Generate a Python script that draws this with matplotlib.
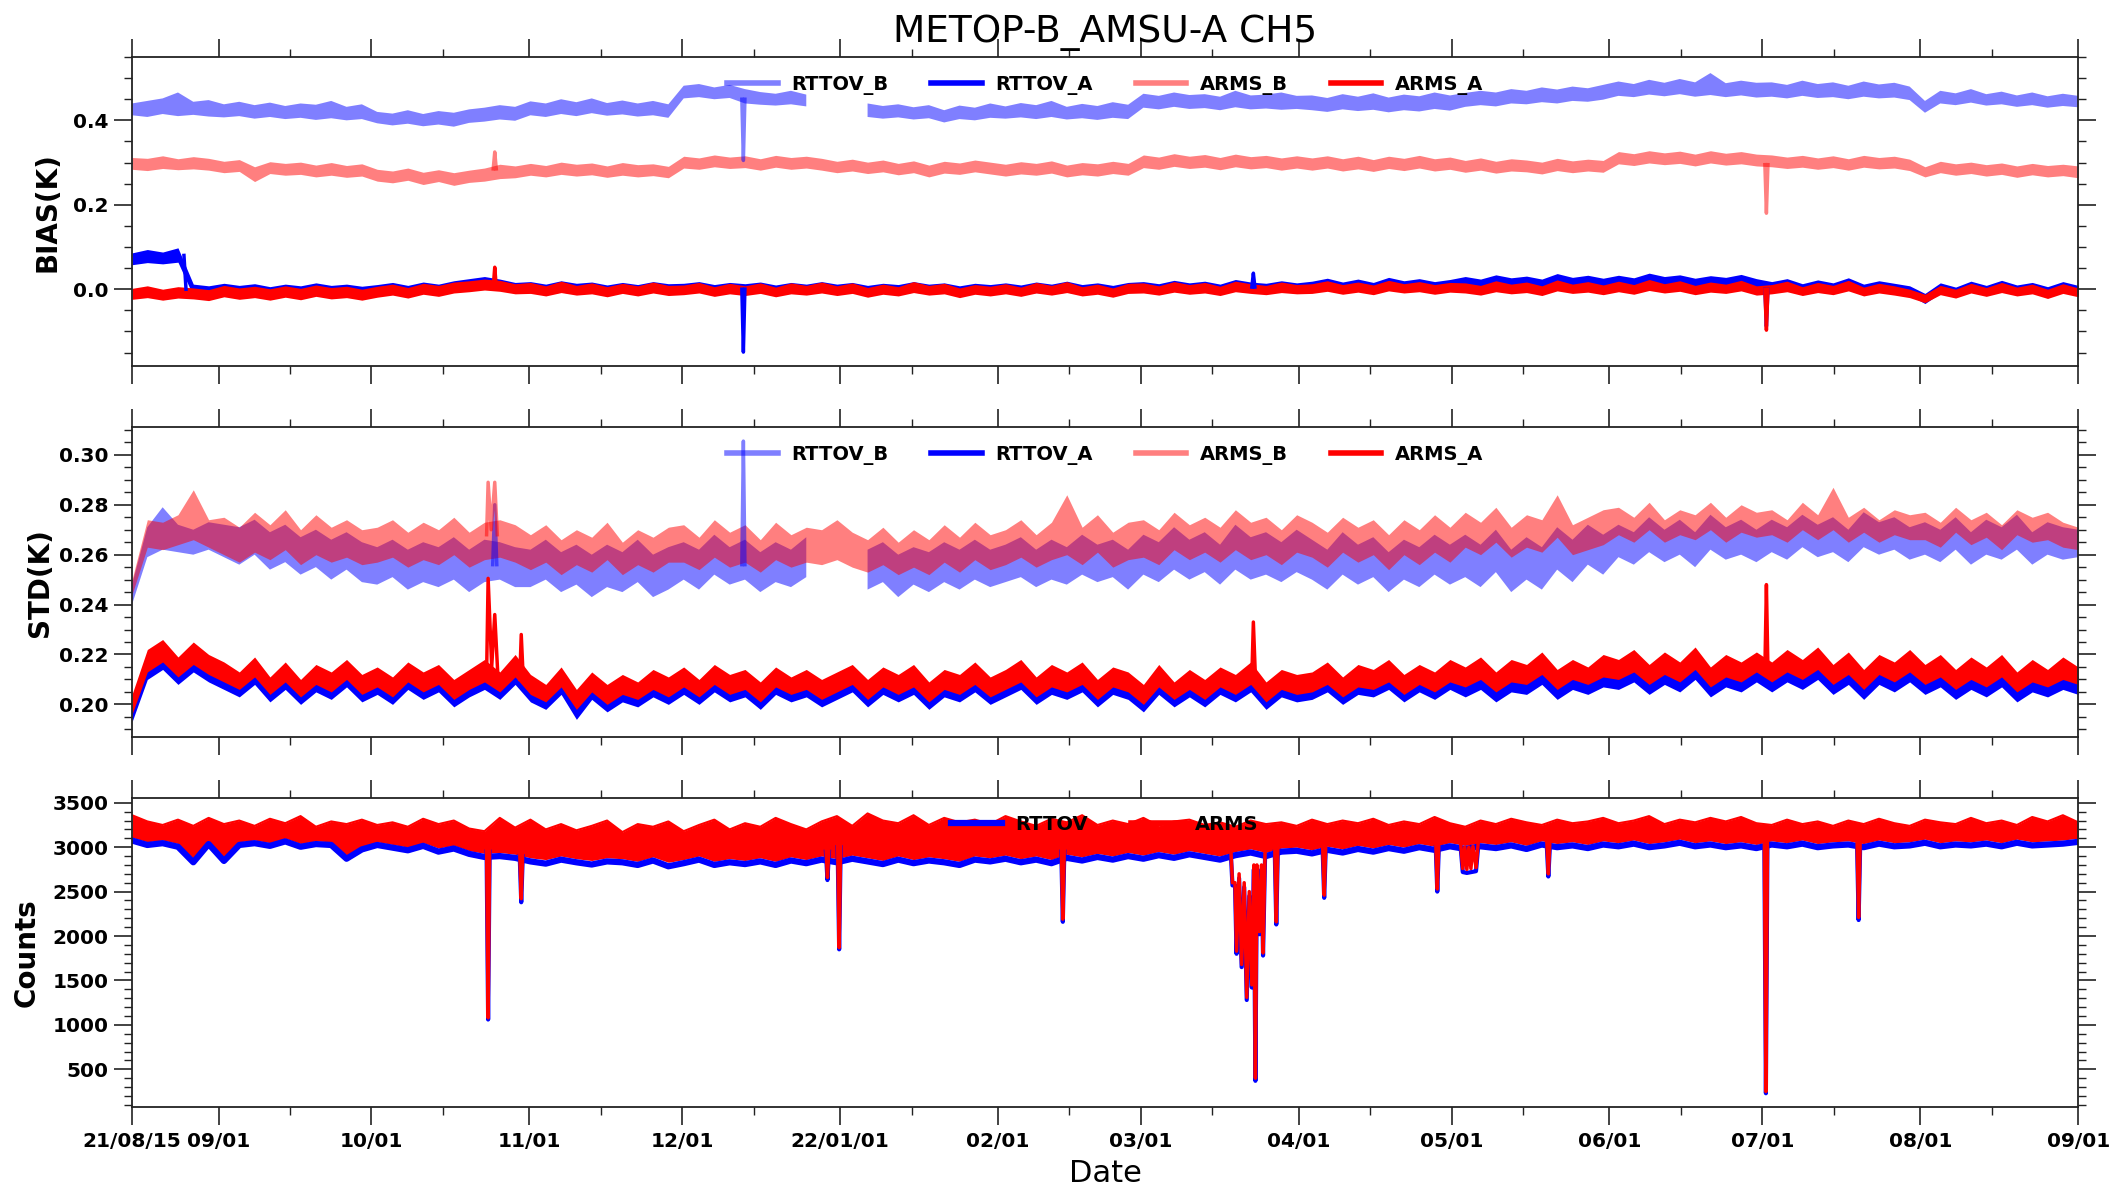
import matplotlib
matplotlib.use('Agg')
import matplotlib.pyplot as plt
import matplotlib.dates as mdates
from matplotlib.ticker import MultipleLocator, FormatStrFormatter, FixedLocator, FuncFormatter
import numpy as np
import pandas as pd

plt.rcParams['font.family'] = ['DejaVu Sans']
plt.rcParams['font.weight'] = 'bold'
plt.rcParams['xtick.labelsize'] = 14.5
plt.rcParams['ytick.labelsize'] = 14.5

START = pd.Timestamp('2021-08-15')
END = pd.Timestamp('2022-09-01')
N_DAYS = (END - START).days
grid_days = np.linspace(0, N_DAYS, 128)    # ~3-day samples
nan = float('nan')

# Every series is a dense noisy trace; it is kept here as the low / high
# envelope of that trace per 3-day sample, plus its isolated spikes.

# ---- BIAS (mK) ----
bias_rttov_b_lo = [412, 408, 415, 410, 413, 409,
                   407, 410, 404, 408, 403, 406, 401, 405, 400, 403,
                   393, 388, 392, 386, 390, 385, 394, 397, 402, 399,
                   412, 408, 415, 410, 417, 411, 414, 409, 412, 406,
                   452, 455, 450, 453, 440, 437, 435, 438, 433, nan,
                   nan, nan, 408, 404, 407, 402, 405, 395, 403, 400, 406,
                   404, 407, 403, 408, 402, 405, 401, 406, 403,
                   430, 426, 432, 427, 429, 424, 431, 426, 428, 425, 427,
                   424, 420, 426, 422, 425, 419, 424, 421, 427, 423,
                   432, 436, 433, 440, 438, 443, 440, 446, 444, 449,
                   458, 455, 461, 457, 462, 456, 460, 455, 459, 454,
                   456, 452, 458, 453, 455, 450, 456, 452, 454, 448,
                   418, 440, 436, 442, 435, 438, 432, 436, 430, 434, 431]
bias_rttov_b_hi = [440, 446, 452, 466, 444, 448,
                   438, 444, 436, 442, 434, 440, 437, 446, 432, 438,
                   420, 416, 424, 415, 422, 418, 426, 430, 436, 432,
                   445, 440, 450, 443, 452, 441, 447, 440, 446, 438,
                   482, 486, 478, 484, 474, 467, 463, 470, 461, nan,
                   nan, nan, 440, 434, 438, 431, 436, 424, 435, 430, 440,
                   433, 441, 436, 446, 432, 439, 434, 443, 437,
                   463, 458, 466, 460, 462, 456, 470, 459, 461, 466, 458,
                   459, 453, 462, 456, 464, 454, 461, 457, 466, 459,
                   465, 470, 466, 474, 470, 478, 473, 480, 476, 484,
                   492, 486, 496, 489, 498, 490, 512, 488, 494, 489,
                   490, 484, 494, 486, 490, 482, 492, 485, 489, 480,
                   446, 470, 464, 474, 462, 468, 459, 466, 457, 463, 458]
bias_rttov_b_spikes = [[(119.7, 450), (120.0, 305), (120.3, 450)]]

bias_rttov_a_lo = [58, 63, 60, 64, -16, -18,
                   -13, -17, -12, -18, -14, -16, -11, -15, -13, -17,
                   -14, -11, -15, -9, -12, -7, -3, 0, -2, -8,
                   -8, -12, -7, -11, -9, -13, -8, -12, -7, -11,
                   -10, -7, -12, -8, -11, -8, -13, -9, -11, -7,
                   -11, -8, -13, -9, -12, -7, -11, -8, -14, -9, -12,
                   -9, -12, -8, -11, -7, -12, -9, -13, -8,
                   -7, -10, -5, -9, -6, -11, -4, -7, -10, -6, -9,
                   -6, -2, -7, -3, -8, -1, -5, -2, -7, -3,
                   0, -4, 3, -2, 1, -5, 4, -1, 2, -3,
                   2, -2, 5, 0, 3, -3, 1, -1, 4, -4,
                   -6, -2, -10, -4, -8, -1, -11, -5, -9, -14,
                   -34, -9, -16, -7, -13, -6, -12, -8, -17, -7, -13]
bias_rttov_a_hi = [86, 94, 88, 98, 12, 8,
                   14, 9, 13, 6, 12, 8, 15, 9, 12, 7,
                   11, 16, 9, 17, 12, 20, 25, 30, 24, 16,
                   18, 12, 20, 14, 17, 10, 16, 11, 18, 13,
                   14, 18, 11, 16, 13, 17, 10, 16, 12, 18,
                   12, 16, 9, 14, 11, 18, 12, 15, 8, 14, 11,
                   15, 10, 17, 12, 19, 11, 15, 9, 16,
                   18, 13, 21, 15, 19, 12, 23, 17, 14, 20, 15,
                   19, 26, 17, 24, 16, 28, 20, 25, 18, 23,
                   30, 24, 34, 27, 31, 24, 37, 28, 33, 26,
                   33, 27, 38, 30, 34, 26, 32, 28, 35, 25,
                   18, 25, 13, 22, 15, 27, 12, 20, 14, 8,
                   -10, 15, 5, 19, 9, 21, 10, 16, 6, 18, 9]
bias_rttov_a_spikes = [[(10.2, 80), (10.6, 0)],
                       [(119.7, 0), (120.0, -149), (120.3, 0)],
                       [(219.8, 5), (220.1, 38), (220.4, 5)],
                       [(320.5, 0), (320.8, -88), (321.1, 0)]]

bias_arms_b_lo = [284, 281, 286, 283, 285, 282,
                  276, 279, 255, 274, 270, 272, 266, 270, 265, 268,
                  256, 252, 258, 248, 255, 246, 253, 256, 262, 264,
                  270, 266, 272, 268, 271, 265, 270, 266, 269, 264,
                  287, 284, 290, 286, 288, 282, 289, 284, 287, 282,
                  276, 280, 274, 278, 271, 276, 266, 275, 272, 278, 273,
                  268, 273, 270, 275, 266, 271, 268, 274, 270,
                  288, 284, 291, 286, 289, 283, 290, 285, 288, 282, 287,
                  282, 287, 280, 285, 279, 286, 281, 287, 280, 284,
                  277, 282, 275, 280, 278, 273, 281, 276, 280, 277,
                  297, 293, 299, 295, 298, 292, 299, 294, 297, 292,
                  290, 286, 289, 284, 288, 282, 289, 285, 287, 281,
                  266, 276, 270, 274, 268, 272, 265, 271, 266, 269, 264]
bias_arms_b_hi = [312, 310, 316, 309, 314, 310,
                  303, 307, 290, 302, 298, 301, 294, 300, 293, 297,
                  284, 280, 287, 277, 283, 276, 282, 287, 296, 292,
                  298, 293, 301, 296, 299, 292, 300, 295, 297, 291,
                  315, 311, 318, 313, 316, 309, 317, 312, 315, 310,
                  303, 308, 301, 306, 298, 304, 294, 303, 299, 306, 301,
                  296, 302, 298, 304, 294, 300, 297, 303, 298,
                  318, 313, 321, 315, 319, 312, 320, 314, 317, 311, 316,
                  311, 316, 309, 315, 307, 315, 310, 317, 309, 313,
                  305, 311, 303, 309, 306, 301, 310, 304, 308, 305,
                  326, 321, 328, 323, 327, 320, 328, 322, 326, 320,
                  318, 313, 317, 311, 316, 309, 317, 312, 315, 308,
                  290, 303, 297, 301, 295, 299, 292, 298, 293, 296, 292]
bias_arms_b_spikes = [[(70.9, 285), (71.2, 325), (71.5, 285)],
                      [(320.5, 295), (320.8, 180), (321.1, 295)]]

bias_arms_a_lo = [-24, -20, -26, -21, -23, -27,
                  -18, -24, -20, -26, -19, -25, -17, -23, -20, -26,
                  -19, -14, -21, -12, -17, -9, -6, -2, -5, -11,
                  -10, -16, -8, -14, -11, -18, -10, -16, -9, -15,
                  -13, -9, -17, -11, -15, -10, -18, -11, -14, -9,
                  -15, -10, -19, -12, -16, -8, -14, -11, -20, -12, -16,
                  -11, -17, -9, -14, -8, -16, -12, -19, -10,
                  -9, -14, -7, -12, -9, -15, -6, -10, -13, -8, -11,
                  -10, -5, -12, -7, -13, -4, -9, -6, -12, -7,
                  -9, -14, -6, -11, -8, -15, -4, -10, -7, -13,
                  -6, -12, -3, -9, -5, -13, -7, -10, -4, -14,
                  -11, -6, -15, -8, -13, -4, -16, -9, -14, -20,
                  -32, -13, -21, -9, -17, -8, -16, -11, -22, -10, -18]
bias_arms_a_hi = [2, 8, 0, 6, 3, -1,
                  9, 3, 7, 1, 8, 2, 10, 4, 7, 0,
                  7, 12, 4, 14, 9, 17, 20, 24, 21, 13,
                  16, 8, 19, 9, 15, 6, 14, 8, 17, 9,
                  10, 16, 6, 14, 8, 15, 5, 15, 9, 17,
                  8, 15, 4, 12, 6, 18, 9, 14, 3, 11, 7,
                  13, 5, 16, 9, 18, 6, 12, 3, 14,
                  15, 8, 18, 11, 16, 7, 19, 13, 9, 17, 11,
                  13, 20, 11, 17, 10, 21, 13, 18, 11, 16,
                  15, 9, 20, 12, 17, 8, 22, 12, 18, 10,
                  19, 11, 23, 13, 20, 9, 17, 12, 21, 8,
                  11, 19, 6, 16, 9, 21, 5, 14, 8, 0,
                  -12, 9, 0, 14, 4, 16, 5, 12, 0, 13, 3]
bias_arms_a_spikes = [[(70.9, 5), (71.2, 52), (71.5, 5)],
                      [(320.5, 0), (320.8, -97), (321.1, 0)]]

# ---- STD (1e-4 K) ----
std_rttov_b_lo = [2400, 2590, 2620, 2610, 2600, 2620,
                  2590, 2560, 2600, 2540, 2570, 2520, 2550, 2500, 2540, 2490,
                  2480, 2510, 2460, 2490, 2470, 2500, 2450, 2490, 2500, 2470,
                  2470, 2500, 2450, 2480, 2430, 2470, 2450, 2490, 2430, 2460,
                  2500, 2460, 2520, 2480, 2500, 2450, 2490, 2470, 2510, nan,
                  nan, nan, 2460, 2490, 2430, 2480, 2450, 2490, 2460, 2500, 2470,
                  2490, 2510, 2470, 2500, 2480, 2520, 2490, 2510, 2460,
                  2520, 2490, 2540, 2500, 2530, 2480, 2540, 2500, 2520, 2490, 2530,
                  2500, 2460, 2520, 2480, 2510, 2450, 2500, 2470, 2520, 2480,
                  2510, 2470, 2530, 2450, 2500, 2460, 2540, 2490, 2560, 2520,
                  2590, 2560, 2610, 2570, 2600, 2550, 2620, 2580, 2600, 2570,
                  2610, 2580, 2630, 2590, 2610, 2570, 2630, 2600, 2620, 2580,
                  2600, 2570, 2620, 2560, 2600, 2580, 2620, 2560, 2600, 2580, 2590]
std_rttov_b_hi = [2480, 2710, 2790, 2720, 2700, 2730,
                  2720, 2710, 2740, 2690, 2720, 2670, 2700, 2660, 2690, 2650,
                  2630, 2660, 2620, 2650, 2630, 2670, 2620, 2660, 2650, 2630,
                  2620, 2660, 2610, 2640, 2600, 2640, 2610, 2660, 2600, 2630,
                  2650, 2620, 2680, 2630, 2660, 2610, 2650, 2620, 2670, nan,
                  nan, nan, 2620, 2650, 2600, 2630, 2610, 2650, 2620, 2660, 2620,
                  2640, 2670, 2620, 2660, 2630, 2680, 2640, 2660, 2620,
                  2680, 2650, 2710, 2660, 2690, 2640, 2720, 2670, 2690, 2650, 2700,
                  2660, 2620, 2690, 2640, 2670, 2610, 2660, 2630, 2680, 2640,
                  2680, 2640, 2700, 2620, 2670, 2630, 2710, 2660, 2720, 2680,
                  2720, 2690, 2750, 2700, 2740, 2690, 2760, 2710, 2740, 2700,
                  2740, 2710, 2760, 2720, 2750, 2700, 2770, 2730, 2750, 2710,
                  2730, 2700, 2750, 2690, 2740, 2710, 2760, 2690, 2730, 2710, 2700]
std_rttov_b_spikes = [[(70.8, 2560), (71.2, 2800), (71.6, 2560)],
                      [(119.7, 2560), (120.0, 3055), (120.3, 2560)]]

std_rttov_a_lo = [1930, 2100, 2140, 2080, 2130, 2090,
                  2060, 2030, 2080, 2010, 2060, 2000, 2050, 2020, 2070, 2010,
                  2040, 2000, 2060, 2020, 2050, 1990, 2030, 2060, 2020, 2080,
                  2010, 1980, 2040, 1940, 2020, 1970, 2010, 1990, 2030, 2000,
                  2040, 2000, 2050, 2010, 2030, 1980, 2040, 2010, 2030, 1990,
                  2020, 2050, 1990, 2040, 2010, 2040, 1980, 2030, 2010, 2050, 2000,
                  2030, 2060, 2000, 2040, 2020, 2050, 1990, 2040, 2020,
                  1970, 2040, 1990, 2030, 1990, 2040, 2010, 2050, 1980, 2030, 2010,
                  2020, 2050, 2000, 2040, 2030, 2060, 2010, 2050, 2020, 2060,
                  2030, 2060, 2010, 2050, 2040, 2080, 2020, 2060, 2040, 2070,
                  2060, 2090, 2040, 2080, 2050, 2100, 2030, 2070, 2050, 2090,
                  2050, 2090, 2060, 2100, 2040, 2080, 2020, 2080, 2050, 2090,
                  2040, 2070, 2020, 2060, 2030, 2070, 2010, 2050, 2030, 2060, 2040]
std_rttov_a_hi = [2000, 2190, 2230, 2160, 2220, 2170,
                  2140, 2100, 2160, 2080, 2140, 2070, 2130, 2100, 2150, 2090,
                  2120, 2080, 2140, 2100, 2130, 2070, 2110, 2150, 2100, 2170,
                  2090, 2050, 2120, 2030, 2100, 2050, 2090, 2060, 2110, 2080,
                  2120, 2070, 2130, 2090, 2110, 2060, 2120, 2080, 2110, 2070,
                  2100, 2130, 2070, 2120, 2090, 2130, 2060, 2110, 2090, 2140, 2080,
                  2110, 2150, 2080, 2130, 2100, 2140, 2070, 2120, 2100,
                  2050, 2130, 2060, 2110, 2070, 2120, 2090, 2140, 2060, 2110, 2090,
                  2100, 2140, 2080, 2130, 2110, 2150, 2090, 2130, 2100, 2150,
                  2110, 2150, 2090, 2140, 2120, 2170, 2100, 2140, 2110, 2160,
                  2140, 2180, 2120, 2170, 2130, 2190, 2110, 2160, 2130, 2170,
                  2130, 2180, 2140, 2190, 2120, 2170, 2100, 2160, 2130, 2180,
                  2120, 2160, 2100, 2150, 2110, 2160, 2090, 2140, 2100, 2150, 2110]
std_rttov_a_spikes = []

std_arms_b_lo = [2440, 2630, 2620, 2640, 2660, 2630,
                 2600, 2570, 2610, 2580, 2620, 2560, 2600, 2570, 2590, 2560,
                 2570, 2590, 2550, 2580, 2560, 2600, 2550, 2580, 2590, 2570,
                 2540, 2570, 2520, 2560, 2530, 2580, 2520, 2560, 2530, 2570,
                 2570, 2540, 2590, 2550, 2570, 2530, 2580, 2550, 2570, 2560,
                 2580, 2550, 2530, 2560, 2520, 2550, 2520, 2570, 2530, 2580, 2540,
                 2560, 2590, 2550, 2580, 2600, 2560, 2610, 2550, 2580,
                 2590, 2560, 2620, 2580, 2610, 2570, 2620, 2580, 2600, 2560, 2610,
                 2590, 2550, 2610, 2570, 2600, 2540, 2600, 2560, 2610, 2570,
                 2630, 2600, 2650, 2590, 2630, 2610, 2670, 2600, 2620, 2640,
                 2680, 2650, 2700, 2650, 2680, 2660, 2700, 2650, 2690, 2670,
                 2680, 2650, 2700, 2660, 2700, 2650, 2690, 2650, 2680, 2660,
                 2660, 2630, 2690, 2640, 2670, 2620, 2680, 2650, 2660, 2630, 2620]
std_arms_b_hi = [2500, 2740, 2730, 2760, 2860, 2740,
                 2750, 2710, 2770, 2720, 2780, 2700, 2760, 2710, 2740, 2700,
                 2710, 2740, 2690, 2730, 2700, 2750, 2690, 2730, 2740, 2720,
                 2680, 2720, 2660, 2700, 2670, 2730, 2650, 2700, 2670, 2710,
                 2720, 2670, 2740, 2690, 2720, 2660, 2730, 2680, 2710, 2700,
                 2740, 2690, 2660, 2710, 2650, 2700, 2660, 2720, 2670, 2730, 2680,
                 2700, 2740, 2680, 2730, 2840, 2710, 2760, 2690, 2730,
                 2740, 2700, 2770, 2720, 2750, 2710, 2780, 2730, 2750, 2700, 2760,
                 2730, 2690, 2750, 2710, 2740, 2680, 2740, 2700, 2760, 2710,
                 2770, 2730, 2790, 2710, 2760, 2740, 2840, 2720, 2750, 2780,
                 2790, 2750, 2810, 2740, 2780, 2760, 2810, 2750, 2800, 2770,
                 2780, 2740, 2810, 2760, 2870, 2750, 2790, 2740, 2780, 2760,
                 2770, 2730, 2790, 2740, 2770, 2720, 2780, 2750, 2770, 2730, 2710]
std_arms_b_spikes = [[(69.6, 2680), (69.9, 2890), (70.5, 2700), (71.2, 2890), (71.7, 2680)]]

std_arms_a_lo = [1960, 2130, 2170, 2110, 2160, 2120,
                 2090, 2060, 2110, 2040, 2090, 2030, 2080, 2050, 2100, 2040,
                 2070, 2030, 2090, 2050, 2080, 2020, 2060, 2090, 2050, 2110,
                 2040, 2010, 2070, 1980, 2050, 2000, 2040, 2020, 2060, 2030,
                 2070, 2030, 2080, 2040, 2060, 2010, 2070, 2040, 2060, 2020,
                 2050, 2080, 2020, 2070, 2040, 2070, 2010, 2060, 2040, 2080, 2030,
                 2060, 2090, 2030, 2070, 2050, 2080, 2020, 2070, 2050,
                 2000, 2070, 2020, 2060, 2020, 2070, 2040, 2080, 2010, 2060, 2040,
                 2050, 2080, 2030, 2070, 2060, 2090, 2040, 2080, 2050, 2090,
                 2070, 2100, 2050, 2090, 2080, 2120, 2060, 2100, 2080, 2110,
                 2100, 2130, 2080, 2120, 2090, 2140, 2070, 2110, 2090, 2130,
                 2090, 2130, 2100, 2140, 2080, 2120, 2060, 2120, 2090, 2130,
                 2080, 2110, 2060, 2100, 2070, 2110, 2050, 2090, 2070, 2100, 2080]
std_arms_a_hi = [2040, 2220, 2260, 2190, 2250, 2200,
                 2170, 2130, 2190, 2110, 2170, 2100, 2160, 2130, 2180, 2120,
                 2150, 2110, 2170, 2130, 2160, 2100, 2140, 2180, 2130, 2200,
                 2120, 2080, 2150, 2060, 2130, 2080, 2120, 2090, 2140, 2110,
                 2150, 2100, 2160, 2120, 2140, 2090, 2150, 2110, 2140, 2100,
                 2130, 2160, 2100, 2150, 2120, 2160, 2090, 2140, 2120, 2170, 2110,
                 2140, 2180, 2110, 2160, 2130, 2170, 2100, 2150, 2130,
                 2080, 2160, 2090, 2140, 2100, 2150, 2120, 2170, 2090, 2140, 2120,
                 2130, 2170, 2110, 2160, 2140, 2180, 2120, 2160, 2130, 2180,
                 2150, 2190, 2130, 2180, 2160, 2210, 2140, 2180, 2150, 2200,
                 2180, 2220, 2160, 2210, 2170, 2230, 2150, 2200, 2170, 2210,
                 2170, 2220, 2180, 2230, 2160, 2210, 2140, 2200, 2170, 2220,
                 2160, 2200, 2140, 2190, 2150, 2200, 2130, 2180, 2140, 2190, 2150]
std_arms_a_spikes = [[(69.6, 2120), (69.9, 2505), (70.6, 2150), (71.2, 2360), (71.8, 2120)],
                     [(76.1, 2100), (76.4, 2280), (76.8, 2100)],
                     [(219.8, 2110), (220.1, 2330), (220.5, 2110)],
                     [(320.5, 2140), (320.8, 2480), (321.1, 2140)]]

# ---- Counts ----
cnt_arms_lo = [3110, 3060, 3080, 3040, 2870, 3070, 2880, 3060,
               3080, 3050, 3100, 3040, 3070, 3060, 2910, 3010,
               3060, 3030, 3000, 3050, 2990, 3020, 2960, 2930,
               2940, 2920, 2880, 2860, 2900, 2870, 2850, 2880,
               2870, 2840, 2890, 2830, 2860, 2900, 2840, 2870,
               2850, 2880, 2840, 2890, 2860, 2900, 2870, 2910,
               2880, 2850, 2900, 2860, 2890, 2870, 2840, 2900,
               2880, 2910, 2870, 2900, 2860, 2920, 2890, 2930,
               2900, 2940, 2910, 2950, 2920, 2960, 2930, 2900,
               2950, 2980, 2940, 2990, 3000, 2970, 3010, 2980,
               3020, 2990, 3030, 3000, 3040, 3010, 3050, 3020,
               3050, 3030, 3060, 3020, 3070, 3040, 3060, 3030,
               3070, 3050, 3080, 3040, 3060, 3090, 3050, 3070,
               3040, 3060, 3030, 3070, 3050, 3080, 3040, 3060,
               3070, 3040, 3080, 3050, 3060, 3090, 3050, 3070,
               3060, 3080, 3050, 3090, 3060, 3070, 3080, 3100]
cnt_arms_hi = [3360, 3290, 3250, 3310, 3240, 3330, 3260, 3300,
               3240, 3320, 3270, 3350, 3230, 3290, 3260, 3310,
               3250, 3280, 3230, 3320, 3260, 3300, 3210, 3180,
               3330, 3220, 3310, 3200, 3260, 3190, 3240, 3300,
               3170, 3260, 3230, 3290, 3180, 3250, 3310, 3200,
               3270, 3230, 3330, 3260, 3200, 3290, 3350, 3240,
               3380, 3300, 3270, 3360, 3250, 3330, 3280, 3310,
               3260, 3350, 3290, 3240, 3320, 3280, 3360, 3250,
               3300, 3260, 3330, 3240, 3290, 3310, 3250, 3280,
               3230, 3300, 3260, 3280, 3240, 3310, 3260, 3300,
               3270, 3320, 3250, 3290, 3260, 3340, 3270, 3230,
               3300, 3260, 3320, 3280, 3250, 3310, 3270, 3290,
               3330, 3270, 3300, 3350, 3260, 3310, 3280, 3330,
               3290, 3340, 3270, 3250, 3310, 3260, 3290, 3240,
               3300, 3260, 3320, 3270, 3240, 3310, 3280, 3260,
               3330, 3270, 3300, 3250, 3340, 3290, 3360, 3280]
# RTTOV only shows as the lower fringe under ARMS
cnt_rttov = [3075, 3025, 3045, 3005, 2830, 3035, 2845, 3025,
             3045, 3015, 3065, 3005, 3035, 3025, 2870, 2975,
             3025, 2995, 2965, 3015, 2950, 2985, 2925, 2890,
             2900, 2880, 2840, 2815, 2860, 2830, 2805, 2840,
             2830, 2800, 2850, 2785, 2820, 2860, 2800, 2830,
             2810, 2840, 2800, 2850, 2820, 2860, 2830, 2870,
             2840, 2810, 2860, 2820, 2850, 2830, 2800, 2860,
             2840, 2870, 2830, 2860, 2820, 2880, 2850, 2890,
             2860, 2900, 2870, 2910, 2880, 2920, 2890, 2860,
             2910, 2940, 2900, 2950, 2960, 2930, 2970, 2940,
             2980, 2950, 2990, 2960, 3000, 2970, 3010, 2980,
             3010, 2990, 3020, 2980, 3030, 3000, 3020, 2990,
             3030, 3010, 3040, 3000, 3020, 3050, 3010, 3030,
             3000, 3020, 2990, 3030, 3010, 3040, 3000, 3020,
             3030, 3000, 3040, 3010, 3020, 3050, 3010, 3030,
             3020, 3040, 3010, 3050, 3020, 3030, 3040, 3060]

cnt_arms_spikes = [[(69.6, 3000), (69.9, 1080), (70.2, 3000)],
                   [(76.1, 2950), (76.4, 2420), (76.7, 2950)],
                   [(136.2, 3000), (136.5, 2660), (136.8, 3000)],
                   [(138.5, 3050), (138.8, 1870), (139.1, 3050)],
                   [(182.4, 3000), (182.7, 2190), (183.0, 3000)],
                   [(215.7, 2950), (216.0, 2600), (216.5, 2600), (216.8, 1830), (217.3, 2700),
                    (217.8, 1680), (218.3, 2600), (218.8, 1310), (219.3, 2500), (219.8, 1450),
                    (220.2, 2800), (220.5, 400), (220.8, 2800), (221.3, 2050), (221.7, 2800),
                    (222.0, 1810), (222.4, 2950)],
                   [(224.3, 3000), (224.6, 2160), (224.9, 3000)],
                   [(233.7, 3020), (234.0, 2460), (234.3, 3020)],
                   [(255.9, 3050), (256.2, 2530), (256.5, 3050)],
                   [(260.8, 3030), (261.2, 2760), (261.6, 3000), (262.0, 2750), (262.4, 3000),
                    (262.8, 2760), (263.2, 3010), (263.8, 2770), (264.2, 3030)],
                   [(277.7, 3060), (278.0, 2700), (278.3, 3060)],
                   [(320.4, 3060), (320.7, 250), (321.0, 3060)],
                   [(338.6, 3060), (338.9, 2210), (339.2, 3060)]]
cnt_rttov_spikes = [[(69.6, 2950), (69.9, 1060), (70.2, 2950)],
                    [(76.1, 2900), (76.4, 2380), (76.7, 2900)],
                    [(136.2, 2950), (136.5, 2630), (136.8, 2950)],
                    [(138.5, 3000), (138.8, 1850), (139.1, 3000)],
                    [(182.4, 2950), (182.7, 2160), (183.0, 2950)],
                    [(215.7, 2900), (216.0, 2570), (216.5, 2570), (216.8, 1800), (217.3, 2650),
                     (217.8, 1650), (218.3, 2550), (218.8, 1280), (219.3, 2450), (219.8, 1420),
                     (220.2, 2750), (220.5, 370), (220.8, 2750), (221.3, 2020), (221.7, 2750),
                     (222.0, 1780), (222.4, 2900)],
                    [(224.3, 2950), (224.6, 2130), (224.9, 2950)],
                    [(233.7, 2970), (234.0, 2430), (234.3, 2970)],
                    [(255.9, 3000), (256.2, 2500), (256.5, 3000)],
                    [(260.8, 2990), (261.2, 2720), (262.0, 2710), (263.8, 2730), (264.2, 2990)],
                    [(277.7, 3010), (278.0, 2670), (278.3, 3010)],
                    [(320.4, 3010), (320.7, 230), (321.0, 3010)],
                    [(338.6, 3010), (338.9, 2180), (339.2, 3010)]]

LIGHT_BLUE = (0, 0, 1, 0.5)
LIGHT_RED = (1, 0, 0, 0.5)
SPIKE_LW = 2.5


def to_dates(days):
    return START + pd.to_timedelta(np.asarray(days, dtype=float), unit='D')


xg = to_dates(grid_days)


def spikes(runs, scale=1.0):
    d, v = [], []
    for run in runs:
        d += [p[0] for p in run] + [run[-1][0]]
        v += [p[1] for p in run] + [nan]
    return to_dates(d), np.array(v, dtype=float) * scale


def band(ax, lo, hi, runs, color, label, scale=1.0):
    ax.fill_between(xg, np.asarray(lo, dtype=float) * scale, np.asarray(hi, dtype=float) * scale,
                    color=color, lw=0)
    if runs:
        ax.plot(*spikes(runs, scale), color=color, lw=SPIKE_LW)
    ax.plot([], [], color=color, lw=4, label=label)


def date_label(x, pos=None):
    d = mdates.num2date(x)
    if d.year == 2021 and d.month == 8:
        return '21/08/15'
    if d.month == 1:
        return d.strftime('%y/%m/%d')
    return d.strftime('%m/%d')


def style_axis(ax):
    for sp in ax.spines.values():
        sp.set_linewidth(1.3)
        sp.set_color('#222222')
    ax.tick_params(which='both', direction='out', top=True, right=True, color='#222222')
    ax.tick_params(which='major', length=13, width=1.2)
    ax.tick_params(which='minor', length=6, width=1.0)
    ax.tick_params(axis='x', which='major', pad=5)
    ax.tick_params(axis='y', which='major', pad=4)


def add_legend(ax, ncol):
    ax.legend(loc='upper center', ncol=ncol, frameon=False,
              prop={'size': 14, 'weight': 'bold'},
              handlelength=2.6, handletextpad=0.7, columnspacing=2.2)


fig, axes = plt.subplots(3, 1, sharex=True, figsize=(21.12, 11.88), dpi=100)
fig.subplots_adjust(left=0.0625, right=0.984, bottom=0.068, top=0.952, hspace=0.197)

# bias
ax = axes[0]
band(ax, bias_rttov_b_lo, bias_rttov_b_hi, bias_rttov_b_spikes, LIGHT_BLUE, 'RTTOV_B', 1e-3)
band(ax, bias_rttov_a_lo, bias_rttov_a_hi, bias_rttov_a_spikes, 'blue', 'RTTOV_A', 1e-3)
band(ax, bias_arms_b_lo, bias_arms_b_hi, bias_arms_b_spikes, LIGHT_RED, 'ARMS_B', 1e-3)
band(ax, bias_arms_a_lo, bias_arms_a_hi, bias_arms_a_spikes, 'red', 'ARMS_A', 1e-3)
ax.set_ylim(-0.183, 0.55)
ax.yaxis.set_major_locator(MultipleLocator(0.2))
ax.yaxis.set_minor_locator(MultipleLocator(0.05))
ax.yaxis.set_major_formatter(FormatStrFormatter('%.1f'))
ax.set_ylabel('BIAS(K)', fontsize=20, fontweight='bold')
ax.yaxis.set_label_coords(-0.036, 0.5)
add_legend(ax, 4)

# std
ax = axes[1]
band(ax, std_rttov_b_lo, std_rttov_b_hi, std_rttov_b_spikes, LIGHT_BLUE, 'RTTOV_B', 1e-4)
band(ax, std_rttov_a_lo, std_rttov_a_hi, std_rttov_a_spikes, 'blue', 'RTTOV_A', 1e-4)
band(ax, std_arms_b_lo, std_arms_b_hi, std_arms_b_spikes, LIGHT_RED, 'ARMS_B', 1e-4)
band(ax, std_arms_a_lo, std_arms_a_hi, std_arms_a_spikes, 'red', 'ARMS_A', 1e-4)
ax.set_ylim(0.187, 0.311)
ax.yaxis.set_major_locator(MultipleLocator(0.02))
ax.yaxis.set_minor_locator(MultipleLocator(0.005))
ax.yaxis.set_major_formatter(FormatStrFormatter('%.2f'))
ax.set_ylabel('STD(K)', fontsize=20, fontweight='bold')
ax.yaxis.set_label_coords(-0.040, 0.5)
add_legend(ax, 4)

# counts
ax = axes[2]
ax.plot(xg, cnt_rttov, color='blue', lw=4.5, label='RTTOV')
ax.plot(*spikes(cnt_rttov_spikes), color='blue', lw=3.0)
band(ax, cnt_arms_lo, cnt_arms_hi, cnt_arms_spikes, 'red', 'ARMS')
ax.plot(xg, cnt_arms_hi, color='red', lw=1.5)
ax.set_ylim(73, 3556)
ax.yaxis.set_major_locator(MultipleLocator(500))
ax.yaxis.set_minor_locator(MultipleLocator(100))
ax.yaxis.set_major_formatter(FormatStrFormatter('%d'))
ax.set_ylabel('Counts', fontsize=20, fontweight='bold')
ax.yaxis.set_label_coords(-0.047, 0.5)
add_legend(ax, 2)

major_dates = [START] + list(pd.date_range('2021-09-01', '2022-09-01', freq='MS'))
ax.xaxis.set_major_locator(FixedLocator(mdates.date2num([d.to_pydatetime() for d in major_dates])))
ax.xaxis.set_minor_locator(mdates.MonthLocator(bymonthday=15))
ax.xaxis.set_major_formatter(FuncFormatter(date_label))
ax.set_xlim(mdates.date2num(START.to_pydatetime()), mdates.date2num(END.to_pydatetime()))

for a in axes:
    style_axis(a)

xc = 0.5 * (0.0625 + 0.984)
fig.text(xc, 1 - 42 / 1188, 'METOP-B_AMSU-A CH5', ha='center', va='baseline',
         fontsize=27, fontweight='normal')
fig.text(xc, 1 - 1182 / 1188, 'Date', ha='center', va='baseline',
         fontsize=22, fontweight='normal')

fig.savefig('out.png', dpi=100)
